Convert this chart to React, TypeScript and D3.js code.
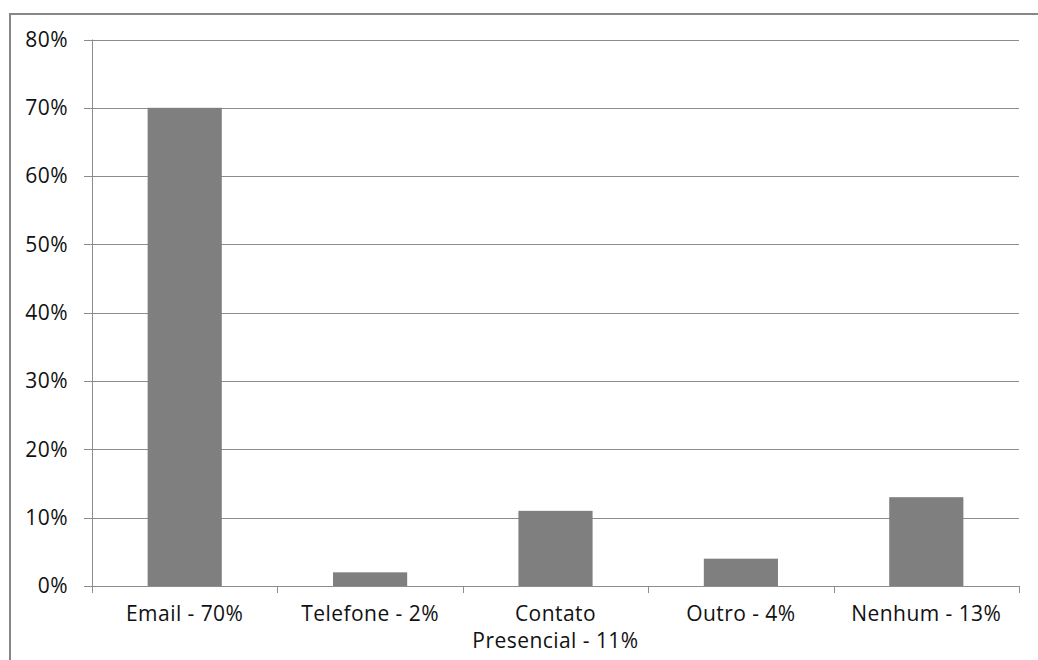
import React from "react";
import * as d3 from "d3";

const categories: string[][] = [
  ["Email - 70%"],
  ["Telefone - 2%"],
  ["Contato", "Presencial - 11%"],
  ["Outro - 4%"],
  ["Nenhum - 13%"],
];
const values: number[] = [70, 2, 11, 4, 13];
const yTicks: number[] = [0, 10, 20, 30, 40, 50, 60, 70, 80];

const W = 1038;
const H = 660;
const left = 92;
const right = 1019;
const top = 39.5;
const bottom = 586;
const font = "'Open Sans', Lato, sans-serif";
const fontSize = 21;
const spacing = 0.45;

export default function App() {
  const keys = categories.map((_, i) => String(i));
  const x = d3.scaleBand<string>().domain(keys).range([left, right]).paddingInner(0.6).paddingOuter(0.3);
  const band = d3.scaleBand<string>().domain(keys).range([left, right]);
  const y = d3.scaleLinear().domain([0, 80]).range([bottom, top]);

  const boundaries = d3.range(categories.length + 1).map((i) => left + i * band.step());

  return (
    <svg width={W} height={H} style={{ position: "absolute", left: 0, top: 0, background: "#fff" }}>
      {/* outer frame */}
      <path d={`M10,${H + 4} V14 H${W + 4}`} fill="none" stroke="#878787" strokeWidth={2} />

      {/* gridlines */}
      {yTicks.map((t) => (
        <line key={t} x1={left} x2={right} y1={Math.round(y(t)) + 0.5} y2={Math.round(y(t)) + 0.5} stroke="#8c8c8c" strokeWidth={1} />
      ))}

      {/* bars */}
      {values.map((v, i) => (
        <rect key={i} x={x(String(i))!} width={x.bandwidth()} y={y(v)} height={y(0) - y(v)} fill="#7f7f7f" />
      ))}

      {/* y axis */}
      <line x1={left + 0.5} x2={left + 0.5} y1={y(80)} y2={y(0)} stroke="#8c8c8c" />
      {yTicks.map((t) => (
        <g key={t}>
          <line x1={left - 8} x2={left} y1={Math.round(y(t)) + 0.5} y2={Math.round(y(t)) + 0.5} stroke="#8c8c8c" />
          <text x={68} y={y(t)} dy="0.34em" textAnchor="end" fontFamily={font} fontSize={fontSize} letterSpacing={spacing} fill="#111">
            {d3.format("d")(t)}%
          </text>
        </g>
      ))}

      {/* x axis */}
      <line x1={left} x2={right} y1={bottom + 0.5} y2={bottom + 0.5} stroke="#8c8c8c" />
      {boundaries.map((b, i) => (
        <line key={i} x1={Math.round(b) + 0.5} x2={Math.round(b) + 0.5} y1={bottom} y2={bottom + 7} stroke="#8c8c8c" />
      ))}
      {categories.map((lines, i) => (
        <text key={i} x={band(String(i))! + band.bandwidth() / 2} y={621} textAnchor="middle" fontFamily={font} fontSize={fontSize} letterSpacing={spacing} fill="#111">
          {lines.map((l, j) => (
            <tspan key={j} x={band(String(i))! + band.bandwidth() / 2} dy={j === 0 ? 0 : 27}>
              {l}
            </tspan>
          ))}
        </text>
      ))}
    </svg>
  );
}
